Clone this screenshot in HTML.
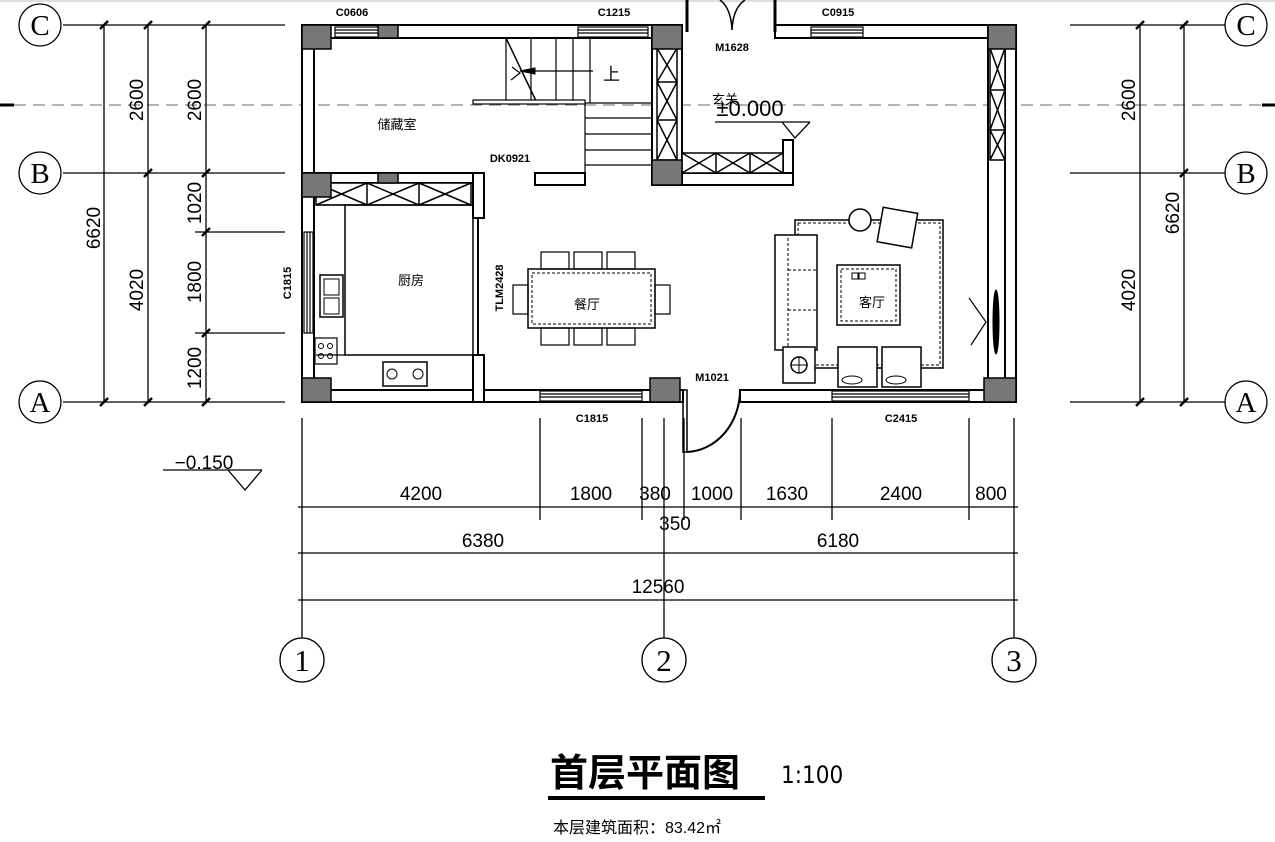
<!DOCTYPE html>
<html><head><meta charset="utf-8"><style>
html,body{margin:0;padding:0;background:#fff;}
svg{display:block;}
text{font-family:"Liberation Sans","Noto Sans CJK SC",sans-serif;fill:#000;}
.dim{font-family:"DejaVu Sans Condensed","Liberation Sans Narrow","Liberation Sans",sans-serif;font-size:19px;}
.ser{font-family:"Liberation Serif",serif;}
</style></head><body>
<svg width="1275" height="842" viewBox="0 0 1275 842" xmlns="http://www.w3.org/2000/svg">
<rect width="1275" height="842" fill="#fff"/>
<line x1="0" y1="1" x2="1275" y2="1" stroke="#ddd" stroke-width="2"/>
<line x1="14" y1="105" x2="1275" y2="105" stroke="#888" stroke-width="1.3" stroke-dasharray="12,7"/>
<line x1="0" y1="105" x2="14" y2="105" stroke="#000" stroke-width="3"/>
<line x1="1262" y1="105" x2="1275" y2="105" stroke="#000" stroke-width="3"/>

<g stroke="#000" stroke-width="1.3" fill="none">
<line x1="63" y1="25" x2="285" y2="25"/><line x1="63" y1="173" x2="285" y2="173"/><line x1="63" y1="402" x2="285" y2="402"/>
<line x1="195" y1="232" x2="285" y2="232"/><line x1="195" y1="333" x2="285" y2="333"/>
<line x1="104" y1="25" x2="104" y2="402"/><line x1="148" y1="25" x2="148" y2="402"/><line x1="206" y1="25" x2="206" y2="402"/>
<line x1="1070" y1="25" x2="1225" y2="25"/><line x1="1070" y1="173" x2="1225" y2="173"/><line x1="1070" y1="402" x2="1225" y2="402"/>
<line x1="1140" y1="25" x2="1140" y2="402"/><line x1="1184" y1="25" x2="1184" y2="402"/>
<circle cx="40" cy="25" r="21"/><circle cx="40" cy="173" r="21"/><circle cx="40" cy="402" r="21"/>
<circle cx="1246" cy="25" r="21"/><circle cx="1246" cy="173" r="21"/><circle cx="1246" cy="402" r="21"/>
<circle cx="302" cy="660" r="22"/><circle cx="664" cy="660" r="22"/><circle cx="1014" cy="660" r="22"/>
<line x1="302" y1="418" x2="302" y2="638"/><line x1="664" y1="418" x2="664" y2="638"/><line x1="1014" y1="418" x2="1014" y2="638"/>
<line x1="540" y1="418" x2="540" y2="520"/><line x1="642" y1="418" x2="642" y2="520"/><line x1="684" y1="418" x2="684" y2="520"/>
<line x1="741" y1="418" x2="741" y2="520"/><line x1="832" y1="418" x2="832" y2="520"/><line x1="969" y1="418" x2="969" y2="520"/>
<line x1="298" y1="507" x2="1018" y2="507"/><line x1="298" y1="553" x2="1018" y2="553"/><line x1="298" y1="600" x2="1018" y2="600"/>
<line x1="163" y1="470" x2="262" y2="470"/><polyline points="228,470 245,490 262,470"/>
<line x1="715" y1="122" x2="810" y2="122"/><polyline points="782,122 795,138 810,122"/>
</g>
<g stroke="#000" stroke-width="2.5">
<line x1="100" y1="29" x2="108" y2="21"/><line x1="144" y1="29" x2="152" y2="21"/><line x1="202" y1="29" x2="210" y2="21"/>
<line x1="144" y1="177" x2="152" y2="169"/><line x1="202" y1="177" x2="210" y2="169"/><line x1="202" y1="236" x2="210" y2="228"/>
<line x1="202" y1="337" x2="210" y2="329"/><line x1="100" y1="406" x2="108" y2="398"/><line x1="144" y1="406" x2="152" y2="398"/><line x1="202" y1="406" x2="210" y2="398"/>
<line x1="1136" y1="29" x2="1144" y2="21"/><line x1="1180" y1="29" x2="1188" y2="21"/><line x1="1180" y1="177" x2="1188" y2="169"/>
<line x1="1136" y1="406" x2="1144" y2="398"/><line x1="1180" y1="406" x2="1188" y2="398"/>
</g>
<g text-anchor="middle">
<text class="ser" x="40" y="35" font-size="29" style="font-family:'Liberation Serif',serif">C</text>
<text class="ser" x="40" y="183" font-size="29" style="font-family:'Liberation Serif',serif">B</text>
<text class="ser" x="40" y="412" font-size="29" style="font-family:'Liberation Serif',serif">A</text>
<text class="ser" x="1246" y="35" font-size="29" style="font-family:'Liberation Serif',serif">C</text>
<text class="ser" x="1246" y="183" font-size="29" style="font-family:'Liberation Serif',serif">B</text>
<text class="ser" x="1246" y="412" font-size="29" style="font-family:'Liberation Serif',serif">A</text>
<text class="ser" x="302" y="671" font-size="31" style="font-family:'Liberation Serif',serif">1</text>
<text class="ser" x="664" y="671" font-size="31" style="font-family:'Liberation Serif',serif">2</text>
<text class="ser" x="1014" y="671" font-size="31" style="font-family:'Liberation Serif',serif">3</text>
</g>
<g class="dim" text-anchor="middle">
<text transform="translate(100,228) rotate(-90)">6620</text>
<text transform="translate(143,100) rotate(-90)">2600</text>
<text transform="translate(143,290) rotate(-90)">4020</text>
<text transform="translate(201,100) rotate(-90)">2600</text>
<text transform="translate(201,203) rotate(-90)">1020</text>
<text transform="translate(201,282) rotate(-90)">1800</text>
<text transform="translate(201,368) rotate(-90)">1200</text>
<text transform="translate(1135,100) rotate(-90)">2600</text>
<text transform="translate(1135,290) rotate(-90)">4020</text>
<text transform="translate(1179,213) rotate(-90)">6620</text>
<text x="421" y="500">4200</text><text x="591" y="500">1800</text><text x="655" y="500">380</text>
<text x="675" y="530">350</text><text x="712" y="500">1000</text><text x="787" y="500">1630</text>
<text x="901" y="500">2400</text><text x="991" y="500">800</text>
<text x="483" y="547">6380</text><text x="838" y="547">6180</text><text x="658" y="593">12560</text>
<text x="204" y="469">−0.150</text>
<text x="750" y="116" font-size="22">±0.000</text>
</g>

<g stroke="#000" stroke-width="2" fill="#fff">
<rect x="302" y="25" width="380" height="13"/>
<rect x="775" y="25" width="241" height="13"/>
<rect x="302" y="25" width="12" height="377"/>
<rect x="302" y="390" width="381" height="12"/>
<rect x="740" y="390" width="276" height="12"/>
<rect x="988" y="25" width="28" height="377"/>
<line x1="1005" y1="48" x2="1005" y2="378"/>
<rect x="302" y="173" width="182" height="10"/>
<rect x="473" y="173" width="11" height="45"/>
<rect x="473" y="355" width="11" height="47"/>
<rect x="535" y="173" width="50" height="12"/>
<rect x="652" y="25" width="30" height="160"/>
<rect x="682" y="173" width="111" height="12"/>
<rect x="783" y="140" width="10" height="33"/>
</g>
<g stroke="#000" stroke-width="1.5" fill="#fff">
<rect x="316" y="183" width="155" height="22"/>
<path d="M316,183 L367,205 M367,183 L316,205 M367,183 L419,205 M419,183 L367,205 M419,183 L471,205 M471,183 L419,205 M367,183 V205 M419,183 V205"/>
<rect x="657" y="48" width="20" height="112"/>
<path d="M657,48 L677,82 M677,48 L657,82 M657,82 L677,120 M677,82 L657,120 M657,120 L677,160 M677,120 L657,160 M657,82 H677 M657,120 H677"/>
<rect x="682" y="153" width="101" height="20"/>
<path d="M682,153 L716,173 M716,153 L682,173 M716,153 L750,173 M750,153 L716,173 M750,153 L783,173 M783,153 L750,173 M716,153 V173 M750,153 V173"/>
<rect x="990" y="48" width="15" height="112"/>
<path d="M990,48 L1005,90 M1005,48 L990,90 M990,90 L1005,130 M1005,90 L990,130 M990,130 L1005,160 M1005,130 L990,160 M990,90 H1005 M990,130 H1005"/>
</g>
<g fill="#777" stroke="#000" stroke-width="1.5">
<rect x="302" y="25" width="29" height="24"/><rect x="378" y="25" width="20" height="13"/>
<rect x="652" y="25" width="30" height="24"/><rect x="988" y="25" width="28" height="24"/>
<rect x="302" y="173" width="29" height="24"/><rect x="378" y="173" width="20" height="10"/>
<rect x="652" y="160" width="30" height="25"/>
<rect x="302" y="378" width="29" height="24"/><rect x="650" y="378" width="30" height="24"/><rect x="984" y="378" width="32" height="24"/>
</g>
<g stroke="#000" stroke-width="1.2" fill="#fff">
<rect x="335" y="27" width="43" height="10"/><path d="M335,30 H378 M335,33 H378"/>
<rect x="578" y="27" width="70" height="10"/><path d="M578,30 H648 M578,33 H648"/>
<rect x="811" y="27" width="52" height="10"/><path d="M811,30 H863 M811,33 H863"/>
<rect x="540" y="391" width="102" height="10"/><path d="M540,394 H642 M540,397 H642"/>
<rect x="832" y="391" width="137" height="10"/><path d="M832,394 H969 M832,397 H969"/>
<rect x="304" y="232" width="9" height="101"/><path d="M307,232 V333 M310,232 V333"/>
</g>
<g stroke="#000" fill="none">
<line x1="687" y1="0" x2="687" y2="32" stroke-width="3"/><line x1="775" y1="0" x2="775" y2="32" stroke-width="3"/>
<path d="M720,0 Q731,8 732,30 Q733,8 745,0" stroke-width="1.5"/>
<rect x="683" y="390" width="4" height="62" stroke-width="1.5"/>
<path d="M687,452 A55,62 0 0 0 740,390" stroke-width="2"/>
<path d="M506,38 L537,103" stroke-width="1.5"/>
<path d="M506,38 V103 M531,38 V103 M556,38 V103 M573,38 V103 M590,38 V103 M585,103 V173" stroke-width="1.2"/>
<rect x="473" y="100" width="112" height="4" fill="#fff" stroke-width="1.2"/>
<path d="M585,103 H652 M585,118 H652 M585,134 H652 M585,150 H652 M585,165 H652" stroke-width="1.2"/>
<path d="M512,67 L520,73 L511,80" stroke-width="1.2"/>
<line x1="520" y1="71" x2="593" y2="71" stroke-width="1.2"/><polygon points="520,71 535,68 535,74" fill="#000"/>
<rect x="345" y="205" width="128" height="150" stroke-width="1.5"/>
<line x1="478" y1="218" x2="478" y2="355" stroke-width="2"/>
<path d="M316,205 H345 M316,355 H345" stroke-width="1.2"/>
<rect x="320" y="275" width="23" height="42" stroke-width="1.5"/>
<rect x="324" y="279" width="15" height="16" stroke-width="1"/><rect x="324" y="298" width="15" height="16" stroke-width="1"/>
<rect x="315" y="338" width="22" height="26" stroke-width="1.2"/>
<circle cx="321" cy="346" r="2.5"/><circle cx="330" cy="346" r="2.5"/><circle cx="321" cy="356" r="2.5"/><circle cx="330" cy="356" r="2.5"/>
<rect x="383" y="362" width="44" height="24" stroke-width="1.5"/>
<circle cx="392" cy="374" r="5"/><circle cx="418" cy="374" r="5"/>
<rect x="528" y="269" width="127" height="59" stroke-width="1.5"/>
<rect x="532" y="273" width="119" height="51" stroke-width="1" stroke-dasharray="3,2"/>
<rect x="541" y="252" width="28" height="17" stroke-width="1.2"/><rect x="574" y="252" width="28" height="17" stroke-width="1.2"/><rect x="607" y="252" width="28" height="17" stroke-width="1.2"/>
<rect x="541" y="328" width="28" height="17" stroke-width="1.2"/><rect x="574" y="328" width="28" height="17" stroke-width="1.2"/><rect x="607" y="328" width="28" height="17" stroke-width="1.2"/>
<rect x="513" y="285" width="15" height="29" stroke-width="1.2"/><rect x="655" y="285" width="15" height="29" stroke-width="1.2"/>
<rect x="795" y="220" width="148" height="148" stroke-width="1.5"/>
<rect x="798" y="223" width="142" height="142" stroke-width="1" stroke-dasharray="3,2"/>
<rect x="775" y="235" width="42" height="115" fill="#fff" stroke-width="1.5"/>
<path d="M788,238 V346 M788,270 H817 M788,310 H817" stroke-width="1" stroke-dasharray="3,2"/>
<rect x="837" y="265" width="63" height="60" fill="#fff" stroke-width="1.5"/>
<rect x="841" y="269" width="55" height="52" stroke-width="1" stroke-dasharray="3,2"/>
<rect x="852" y="273" width="6" height="6" stroke-width="1"/><rect x="859" y="273" width="6" height="6" stroke-width="1"/>
<rect x="838" y="347" width="39" height="40" fill="#fff" stroke-width="1.5"/>
<rect x="882" y="347" width="39" height="40" fill="#fff" stroke-width="1.5"/>
<ellipse cx="852" cy="380" rx="10" ry="4" stroke-width="1"/><ellipse cx="896" cy="380" rx="10" ry="4" stroke-width="1"/>
<rect x="783" y="347" width="32" height="36" fill="#fff" stroke-width="1.5"/>
<circle cx="799" cy="365" r="8" stroke-width="1.5"/><path d="M791,365 H807 M799,357 V373" stroke-width="1"/>
<circle cx="860" cy="220" r="11" fill="#fff" stroke-width="1.5"/>
<rect x="880" y="210" width="35" height="35" fill="#fff" stroke-width="1.5" transform="rotate(10 897 227)"/>
<path d="M969,298 L986,322 L971,345" stroke-width="1.2"/>
<ellipse cx="996" cy="322" rx="3" ry="32" fill="#000"/>
</g>

<g font-size="11" font-weight="bold" text-anchor="middle">
<text x="352" y="16">C0606</text><text x="614" y="16">C1215</text><text x="838" y="16">C0915</text>
<text x="732" y="51">M1628</text><text x="510" y="162">DK0921</text>
<text x="712" y="381">M1021</text><text x="592" y="422">C1815</text><text x="901" y="422">C2415</text>
<text transform="translate(291,283) rotate(-90)">C1815</text>
<text transform="translate(503,288) rotate(-90)">TLM2428</text>
</g>
<g font-size="13" text-anchor="middle" fill="#000">
<text x="397" y="129">储藏室</text><text x="411" y="285">厨房</text><text x="587" y="309">餐厅</text>
<text x="872" y="307">客厅</text><text x="725" y="104">玄关</text>
</g>
<text x="603" y="80" font-size="17">上</text>
<text x="550" y="786" font-size="38" font-weight="bold">首层平面图</text>
<rect x="548" y="796" width="217" height="4" fill="#000"/>
<text x="781" y="783" font-size="24" style="font-family:'DejaVu Sans Condensed','Liberation Sans',sans-serif">1:100</text>
<text x="553" y="833" font-size="16">本层建筑面积：83.42㎡</text>
</svg>
</body></html>
